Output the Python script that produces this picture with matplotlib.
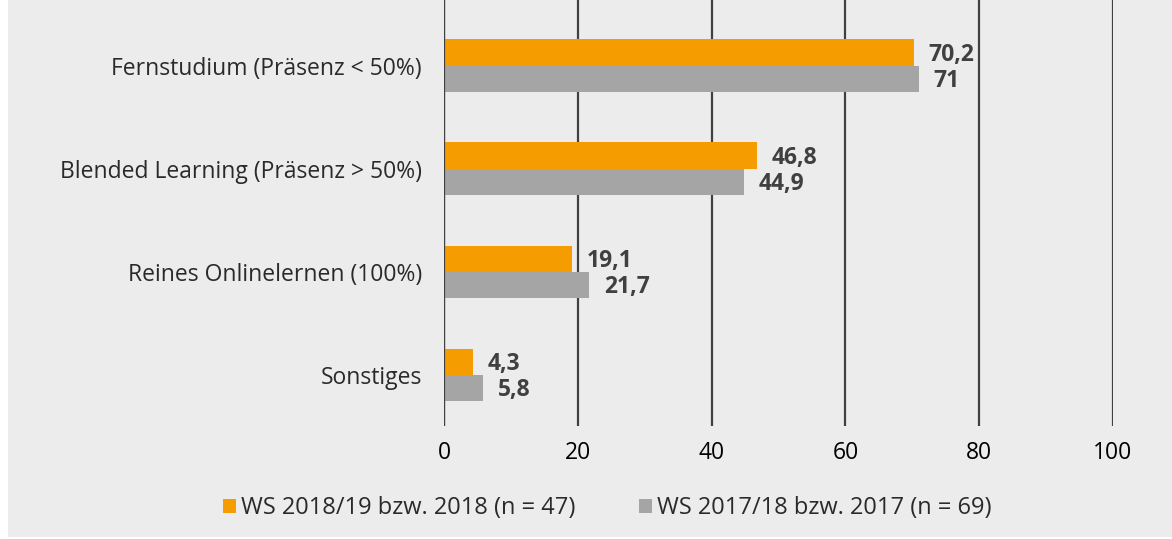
import matplotlib.pyplot as plt
import numpy as np

plt.rcParams['font.family'] = ['Open Sans', 'DejaVu Sans']

categories = ['Fernstudium (Präsenz < 50%)', 'Blended Learning (Präsenz > 50%)',
              'Reines Onlinelernen (100%)', 'Sonstiges']
ws2018 = [70.2, 46.8, 19.1, 4.3]
ws2017 = [71, 44.9, 21.7, 5.8]
lbl2018 = ['70,2', '46,8', '19,1', '4,3']
lbl2017 = ['71', '44,9', '21,7', '5,8']
names = ['WS 2018/19 bzw. 2018 (n = 47)', 'WS 2017/18 bzw. 2017 (n = 69)']

orange = '#f59c00'
grey = '#a5a5a5'
bg = '#ececec'
dark = '#404040'
fs = 16.5

fig = plt.figure(figsize=(11.72, 5.39), dpi=100, facecolor='white')
# grey panel with small white edge on the left
fig.patches.append(plt.Rectangle((8 / 1172, 2 / 539), 1, 1, transform=fig.transFigure,
                                 facecolor=bg, edgecolor='none', zorder=-1))
ax = fig.add_axes([444 / 1172, 113 / 539, 669 / 1172, 426 / 539])
ax.set_facecolor(bg)

y = np.arange(len(categories))[::-1]
h = 0.257
ax.barh(y + h / 2, ws2018, height=h, color=orange, zorder=3, label=names[0])
ax.barh(y - h / 2, ws2017, height=h, color=grey, zorder=3, label=names[1])

for yi, v, s in zip(y, ws2018, lbl2018):
    ax.text(v + 2.2, yi + h / 2 - 0.02, s, va='center', ha='left', fontsize=fs,
            fontweight='bold', color=dark)
for yi, v, s in zip(y, ws2017, lbl2017):
    ax.text(v + 2.2, yi - h / 2 - 0.02, s, va='center', ha='left', fontsize=fs,
            fontweight='bold', color=dark)

ax.set_xlim(0, 100)
ax.set_ylim(-0.495, 3.64)
ax.set_xticks(np.arange(0, 101, 20))
ax.set_yticks(y)
ax.set_yticklabels(categories, fontsize=fs, color='#2a2a2a')
ax.tick_params(axis='x', length=0, pad=11, labelsize=fs, labelcolor='black')
ax.tick_params(axis='y', length=0, pad=16)
ax.grid(axis='x', color=dark, linewidth=1.6, zorder=1)
for sp in ax.spines.values():
    sp.set_visible(False)
ax.axvline(0, color=dark, linewidth=1.6, zorder=4)

leg = fig.legend(loc='center', bbox_to_anchor=(607 / 1172, 1 - 508 / 539), ncol=2,
                 frameon=False, fontsize=17, handlelength=0.55, handleheight=0.55,
                 handletextpad=0.2, columnspacing=2.7)
for t in leg.get_texts():
    t.set_color('#2a2a2a')

fig.savefig('out.png', dpi=100, facecolor='white')
